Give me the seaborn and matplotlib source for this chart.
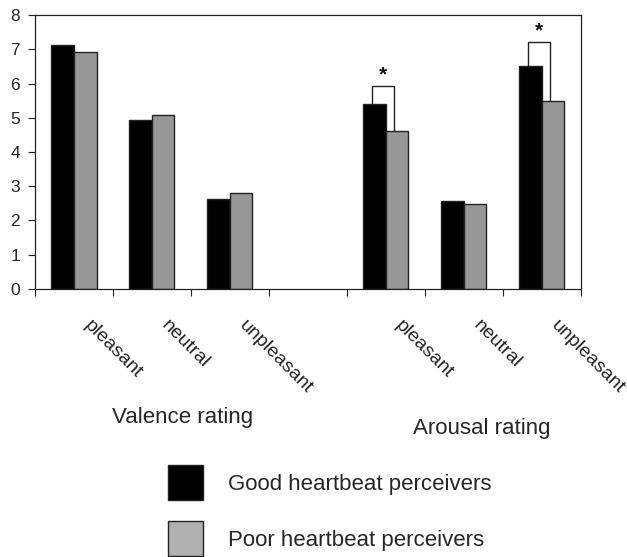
import matplotlib
matplotlib.use("Agg")
import matplotlib.pyplot as plt
import seaborn as sns
import pandas as pd
from matplotlib.patches import Patch

# ---- data ----
conditions = ["pleasant", "neutral", "unpleasant", "pleasant", "neutral", "unpleasant"]
slot_positions = [0, 1, 2, 4, 5, 6]
rating_types = ["Valence rating", "Arousal rating"]
groups = ["Good heartbeat perceivers", "Poor heartbeat perceivers"]
good_values = [7.13, 4.92, 2.63, 5.40, 2.58, 6.52]
poor_values = [6.92, 5.07, 2.81, 4.61, 2.48, 5.48]
sig_slots = [4, 6]
sig_bracket_tops = [5.94, 7.22]
y_ticks = [0, 1, 2, 3, 4, 5, 6, 7, 8]

rows = []
for pos, g, p in zip(slot_positions, good_values, poor_values):
    rows.append({"slot": pos, "group": groups[0], "value": g})
    rows.append({"slot": pos, "group": groups[1], "value": p})
df = pd.DataFrame(rows)

# ---- style ----
sns.set_style("ticks")
plt.rcParams["font.family"] = ["Liberation Sans", "DejaVu Sans"]

W, H = 627, 557
fig = plt.figure(figsize=(W / 100, H / 100), dpi=100)
ax_l, ax_r, ax_t, ax_b = 35, 580.5, 15, 289
ax = fig.add_axes([ax_l / W, 1 - ax_b / H, (ax_r - ax_l) / W, (ax_b - ax_t) / H])

edge = "#222222"
bar_w = 0.58
sns.barplot(data=df, x="slot", y="value", hue="group", hue_order=groups,
            native_scale=True, palette=["#000000", "#979797"], width=bar_w,
            edgecolor=edge, linewidth=1.0, errorbar=None, legend=False,
            saturation=1, ax=ax)

ax.set_xlim(-0.5, 6.5)
ax.set_ylim(0, 8)
ax.set_yticks(y_ticks)
ax.set_yticklabels([str(t) for t in y_ticks], fontsize=12.5)
boundaries = [b - 0.5 for b in range(8)]
ax.set_xticks(boundaries)
ax.set_xticklabels([""] * len(boundaries))
ax.tick_params(axis="both", direction="out", length=4.8, width=0.8, color=edge, pad=6)
ax.set_xlabel("")
ax.set_ylabel("")
for s in ax.spines.values():
    s.set_visible(True)
    s.set_color(edge)
    s.set_linewidth(0.9)

# category labels
trans = ax.get_xaxis_transform()
for pos, lab in zip(slot_positions, conditions):
    ax.text(pos + 0.08, -0.102, lab, transform=trans, rotation=-45,
            ha="left", va="top", fontsize=14, rotation_mode="default")

# significance brackets
quarter = bar_w / 4
for slot, top in zip(sig_slots, sig_bracket_tops):
    i = slot_positions.index(slot)
    l = slot - quarter - 0.032
    r = slot + quarter - 0.032
    ax.plot([l, l, r, r], [good_values[i], top, top, poor_values[i]],
            color=edge, lw=1.0, solid_joinstyle="miter")
    ax.text((l + r) / 2, top + 0.16, "*", ha="center", va="baseline",
            fontsize=15, fontweight="bold", color="#111111")

# group labels
fig.text(182.5 / W, 1 - 423 / H, rating_types[0], ha="center", va="baseline", fontsize=16)
fig.text(482 / W, 1 - 434 / H, rating_types[1], ha="center", va="baseline", fontsize=16)

# legend
fs = 16
fs_px = fs * 100 / 72
box = 35 / fs_px
handles = [Patch(facecolor="#000000", edgecolor=edge, linewidth=1.0),
           Patch(facecolor="#b0b0b0", edgecolor=edge, linewidth=1.0)]
fig.legend(handles, groups, loc="upper left",
           bbox_to_anchor=(168 / W, 1 - 465 / H), frameon=False, fontsize=fs,
           borderpad=0, borderaxespad=0, handlelength=box,
           handleheight=(box - 0.245) / 0.65,
           handletextpad=25 / fs_px, labelspacing=21 / fs_px)

fig.savefig("out.png", dpi=100)
